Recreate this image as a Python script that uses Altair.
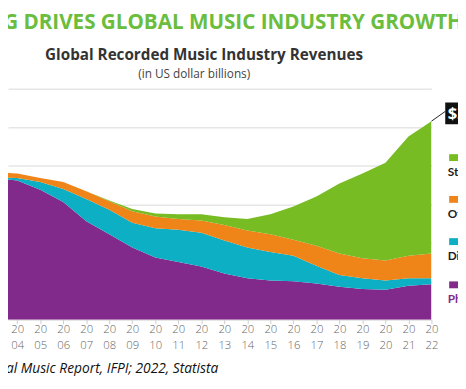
import altair as alt
import pandas as pd

years = list(range(2003, 2023))
series = ["Physical", "Digital", "Other", "Streaming"]
colors = ["#812a8b", "#0cafc4", "#ef8418", "#76bc22"]

physical = [18.4, 18.1, 16.9, 15.3, 12.8, 11.1, 9.4, 8.1, 7.5, 6.9, 6.0, 5.4, 5.1, 5.0, 4.7, 4.3, 4.0, 3.9, 4.4, 4.6]
digital = [0.1, 0.3, 1.0, 1.7, 2.9, 3.2, 3.2, 3.8, 4.2, 4.4, 4.3, 4.0, 3.7, 3.3, 2.3, 1.5, 1.4, 1.2, 1.0, 0.8]
other = [0.7, 0.6, 0.5, 0.9, 1.0, 1.1, 1.5, 1.5, 1.4, 1.6, 2.0, 2.2, 2.3, 2.1, 2.6, 2.8, 2.6, 2.6, 2.9, 3.2]
streaming = [0.0, 0.0, 0.0, 0.0, 0.0, 0.1, 0.3, 0.4, 0.6, 0.8, 1.0, 1.5, 2.6, 4.3, 6.4, 9.1, 11.0, 12.7, 15.5, 17.2]

legend_labels = ["Streaming", "Other", "Digital (excluding streaming)", "Physical"]
legend_colors = ["#76bc22", "#ef8418", "#0cafc4", "#812a8b"]
legend_text_colors = ["#222222", "#222222", "#222222", "#812a8b"]

headline = "STREAMING DRIVES GLOBAL MUSIC INDUSTRY GROWTH"
chart_title = "Global Recorded Music Industry Revenues"
chart_subtitle = "(in US dollar billions)"
source = "Sources: 2023 Global Music Report, IFPI; 2022, Statista"
callout = "$26.2B"
tick_years = list(range(2004, 2023))
grid_values = [0, 5, 10, 15, 20, 25, 30]

rows = []
for i, s in enumerate(series):
    vals = [physical, digital, other, streaming][i]
    for y, v in zip(years, vals):
        rows.append({"year": y, "series": s, "value": v, "order": i})
df = pd.DataFrame(rows)

W, H = 431, 235
xscale = alt.Scale(domain=[2003.6, 2022], nice=False, zero=False)
yscale = alt.Scale(domain=[0, 30], nice=False)
label_style = dict(labelFont="Open Sans", labelFontSize=11.5, labelFontWeight=300,
                   labelColor="#666666", labelBaseline="top",
                   labelFlush=False, labelOverlap=False, labelBound=False,
                   domain=False, grid=False)
# century part on the first line, two-digit year on the second line
xaxis_top = alt.Axis(orient="bottom", values=tick_years, format="d",
                     labelExpr="substring(datum.label,0,2)", labelPadding=0.5,
                     tickSize=4, tickColor="#cccccc", tickWidth=1, **label_style)
xaxis_bottom = alt.Axis(orient="bottom", values=tick_years, format="d",
                        labelExpr="substring(datum.label,2,4)", labelPadding=20.2,
                        ticks=False, tickSize=0, **label_style)
yaxis = alt.Axis(values=grid_values, labels=False, ticks=False, domain=False,
                 grid=True, gridColor="#e6e6e6", gridWidth=1.5)

areas = alt.Chart(df).mark_area(clip=True, interpolate="linear").encode(
    x=alt.X("year:Q", scale=xscale, title=None, axis=xaxis_top),
    y=alt.Y("value:Q", stack="zero", scale=yscale, title=None, axis=yaxis),
    color=alt.Color("series:N", scale=alt.Scale(domain=series, range=colors), legend=None),
    order=alt.Order("order:Q", sort="ascending"),
)

total_last = physical[-1] + digital[-1] + other[-1] + streaming[-1]
leader_df = pd.DataFrame({"year": [years[-1]], "value": [total_last]})
leader = alt.Chart(leader_df).mark_rule(color="#222222", strokeWidth=1).encode(
    x=alt.X("year:Q", scale=xscale, title=None, axis=xaxis_bottom),
    y=alt.Y("value:Q", scale=yscale, title=None, axis=yaxis),
    x2=alt.value(445), y2=alt.value(23)
)

one = pd.DataFrame({"k": [0]})
box = alt.Chart(one).mark_rect(color="#111111").encode(
    x=alt.value(445), x2=alt.value(500), y=alt.value(14), y2=alt.value(36)
)
box_text = alt.Chart(pd.DataFrame({"t": [callout]})).mark_text(
    align="left", baseline="middle", font="Open Sans", fontWeight="bold", fontSize=17, color="white"
).encode(x=alt.value(447.5), y=alt.value(25.5), text="t:N")

layers = [areas, leader, box, box_text]

sq_y = [70, 112.5, 155.5, 199.5]
tx_y = [85, 127, 170, 214]
for lab, c, tc, sy, ty in zip(legend_labels, legend_colors, legend_text_colors, sq_y, tx_y):
    layers.append(alt.Chart(one).mark_rect(color=c).encode(
        x=alt.value(449), x2=alt.value(470), y=alt.value(sy - 3.5), y2=alt.value(sy + 3.5)))
    layers.append(alt.Chart(pd.DataFrame({"t": [lab]})).mark_text(
        align="left", baseline="middle", font="Lato", fontWeight="bold", fontSize=12, color=tc
    ).encode(x=alt.value(447.5), y=alt.value(ty), text="t:N"))

layers.append(alt.Chart(pd.DataFrame({"t": [headline]})).mark_text(
    align="right", baseline="alphabetic", font="Open Sans", fontWeight="bold", fontSize=21, color="#6abd3d"
).encode(x=alt.value(463), y=alt.value(-61), text="t:N"))
layers.append(alt.Chart(pd.DataFrame({"t": [chart_title]})).mark_text(
    align="center", baseline="alphabetic", font="Open Sans", fontWeight="bold", fontSize=15.5, color="#333333"
).encode(x=alt.value(199.5), y=alt.value(-29.5), text="t:N"))
layers.append(alt.Chart(pd.DataFrame({"t": [chart_subtitle]})).mark_text(
    align="center", baseline="alphabetic", font="Open Sans", fontSize=12, color="#444444"
).encode(x=alt.value(189.5), y=alt.value(-11.5), text="t:N"))
layers.append(alt.Chart(pd.DataFrame({"t": [source]})).mark_text(
    align="right", baseline="middle", font="Open Sans", fontStyle="italic", fontSize=14, color="#111111"
).encode(x=alt.value(214), y=alt.value(H + 50), text="t:N"))

chart = alt.layer(*layers).resolve_axis(x="independent").properties(
    width=W, height=H,
    autosize=alt.AutoSizeParams(type="none"),
    padding={"left": 0, "top": 79, "right": 27, "bottom": 54},
    background="white",
).configure_view(strokeWidth=0)

chart.save("out.html", embed_options={"renderer": "svg", "actions": False})
